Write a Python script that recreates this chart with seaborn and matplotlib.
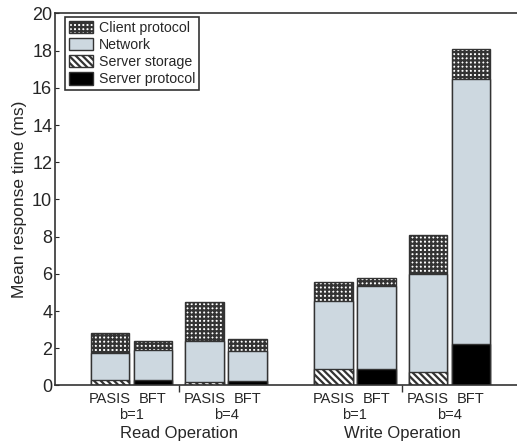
import numpy as np
import pandas as pd
import matplotlib
matplotlib.use('Agg')
import matplotlib.pyplot as plt
import seaborn as sns
from matplotlib.patches import Patch

# bars, left to right
operations = ['Read', 'Read', 'Read', 'Read', 'Write', 'Write', 'Write', 'Write']
systems = ['PASIS', 'BFT', 'PASIS', 'BFT', 'PASIS', 'BFT', 'PASIS', 'BFT']
b_values = ['b=1', 'b=1', 'b=4', 'b=4', 'b=1', 'b=1', 'b=4', 'b=4']
positions = [0, 1, 2.2, 3.2, 5.2, 6.2, 7.4, 8.4]

# stacked components (ms)
server_protocol = [0.0, 0.30, 0.0, 0.22, 0.0, 0.87, 0.0, 2.23]
server_storage = [0.30, 0.0, 0.20, 0.0, 0.87, 0.0, 0.74, 0.0]
network = [1.43, 1.60, 2.17, 1.65, 3.69, 4.48, 5.24, 14.27]
client_protocol = [1.10, 0.50, 2.13, 0.63, 1.02, 0.45, 2.11, 1.60]

df = pd.DataFrame({'pos': positions, 'system': systems, 'b': b_values, 'op': operations,
                   'sprot': server_protocol, 'sstor': server_storage,
                   'net': network, 'client': client_protocol})
df['bottom'] = df['sprot'] + df['sstor']
df['net_top'] = df['bottom'] + df['net']
df['total'] = df['net_top'] + df['client']

sns.set_style('ticks')
plt.rcParams['font.family'] = ['Liberation Sans', 'DejaVu Sans']
plt.rcParams['hatch.color'] = 'black'
plt.rcParams['hatch.linewidth'] = 1.6

CLIENT_HATCH = '++++'
STORAGE_HATCH = '\\\\\\\\\\'

fig = plt.figure(figsize=(5.17, 4.41), dpi=100)
ax = fig.add_axes([0.1064, 0.1259, 0.8936, 0.8435])

net_color = '#cdd8e0'
edge = '#333333'
kw = dict(x='pos', native_scale=True, width=0.9, saturation=1, errorbar=None,
          linewidth=1, edgecolor=edge, ax=ax)

# client protocol on top (drawn as full height first)
sns.barplot(data=df, y='total', color='white', **kw)
for p in ax.containers[-1]:
    p.set_hatch(CLIENT_HATCH)
# network
sns.barplot(data=df, y='net_top', color=net_color, **kw)
# server storage / server protocol at the bottom
sns.barplot(data=df, y='bottom', color='white', **kw)
for p, st in zip(ax.containers[-1], df['sstor']):
    if st > 0:
        p.set_hatch(STORAGE_HATCH)
    else:
        p.set_facecolor('black')

ax.set_xlim(-1.28, 9.47)
ax.set_ylim(0, 20)
ax.set_yticks(np.arange(0, 21, 2))
ax.tick_params(axis='y', direction='in', length=3, labelsize=13, pad=2)
ax.set_ylabel('Mean response time (ms)', fontsize=12.5, labelpad=4)

ax.set_xticks(positions)
ax.set_xticklabels(systems, fontsize=10.5)
ax.tick_params(axis='x', length=0, pad=5)
ax.set_xticks([1.6, 6.8], minor=True)
ax.tick_params(axis='x', which='minor', direction='out', length=5, width=1, color=edge)
ax.set_xlabel('')

trans = ax.get_xaxis_transform()
for grp in df.groupby(['op', 'b'], sort=False):
    centre = grp[1]['pos'].mean()
    ax.text(centre, -0.079, grp[0][1], transform=trans, ha='center', va='center', fontsize=10.5)
for op, grp in df.groupby('op', sort=False):
    centre = grp['pos'].mean()
    ax.text(centre, -0.128, op + ' Operation', transform=trans, ha='center', va='center', fontsize=12)

for s in ['top', 'left', 'bottom']:
    ax.spines[s].set_visible(True)
    ax.spines[s].set_color(edge)
    ax.spines[s].set_linewidth(1.2)
ax.spines['right'].set_visible(False)

handles = [Patch(facecolor='white', edgecolor=edge, hatch=CLIENT_HATCH, label='Client protocol'),
           Patch(facecolor=net_color, edgecolor=edge, label='Network'),
           Patch(facecolor='white', edgecolor=edge, hatch=STORAGE_HATCH, label='Server storage'),
           Patch(facecolor='black', edgecolor=edge, label='Server protocol')]
leg = ax.legend(handles=handles, loc='upper left', bbox_to_anchor=(0.022, 0.99),
                fontsize=10.2, frameon=True, fancybox=False, handlelength=1.7,
                handleheight=1.0, labelspacing=0.2, borderpad=0.25,
                handletextpad=0.45, borderaxespad=0)
leg.get_frame().set_edgecolor('black')
leg.get_frame().set_linewidth(1.2)

fig.savefig('out.png', dpi=100)
